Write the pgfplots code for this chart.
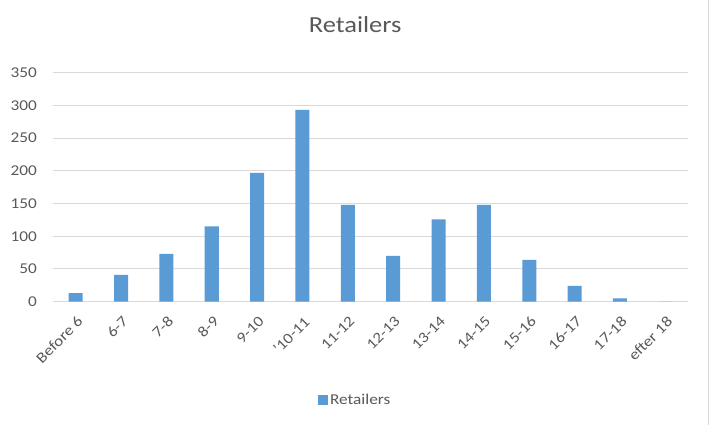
\documentclass[border=0pt]{standalone}
\usepackage{pgfplots}
\pgfplotsset{compat=1.18}
\usepackage{fontspec}
\setmainfont[FakeStretch=1.15]{Carlito}
\definecolor{barblue}{HTML}{5B9BD5}
\definecolor{txtgray}{HTML}{595959}
\definecolor{gridgray}{HTML}{D9D9D9}
\begin{document}
\begin{tikzpicture}
\useasboundingbox (-53pt,-123.3pt) rectangle (665pt,301.7pt);
\fill[white] (-53pt,-123.3pt) rectangle (665pt,301.7pt);
\draw[gridgray, line width=1pt] (655pt,-123.3pt) -- (655pt,301.7pt);
\begin{axis}[
  at={(0pt,0pt)}, anchor=south west,
  scale only axis, width=635pt, height=229pt,
  xmin=-0.5, xmax=13.5, ymin=0, ymax=350,
  ytick={0,50,...,350},
  xtick={0,...,13},
  xticklabels={Before 6,6-7,7-8,8-9,9-10,'10-11,11-12,12-13,13-14,14-15,15-16,16-17,17-18,efter 18},
  axis line style={draw=none},
  major tick length=0pt,
  ymajorgrids,
  major grid style={gridgray, line width=1pt},
  /pgf/number format/assume math mode=true,
  yticklabel style={font=\fontsize{15}{17}\selectfont, text=txtgray, inner sep=0pt, anchor=east, xshift=-16pt},
  xticklabel style={rotate=45, anchor=north east, inner sep=0pt, font=\fontsize{15}{17}\selectfont, text=txtgray, xshift=-9pt, yshift=-10pt},
  title={Retailers},
  title style={at={(rel axis cs:0.476,1.1515)}, anchor=base, inner sep=0pt, font=\fontsize{23}{27}\selectfont, text=txtgray},
  legend style={draw=none, at={(0.476,-0.43)}, anchor=center, font=\fontsize{15}{17}\selectfont, text=txtgray, inner sep=0pt},
  legend image code/.code={\fill[barblue] (0pt,-5pt) rectangle (10pt,5pt);},
  legend cell align=left,
]
\addplot[ybar, bar width=14pt, fill=barblue, draw=none] coordinates {
(0,13) (1,41) (2,73) (3,115) (4,197) (5,293) (6,148) (7,70) (8,126) (9,148) (10,64) (11,24) (12,5) (13,0)
};
\addlegendentry{Retailers}
\end{axis}
\end{tikzpicture}
\end{document}
